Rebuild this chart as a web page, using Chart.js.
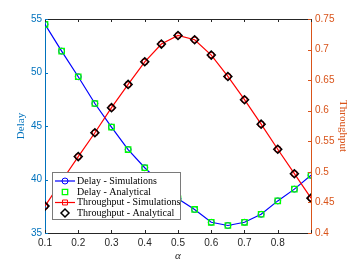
<!DOCTYPE html>
<html>
<head>
<meta charset="utf-8">
<script src="https://cdn.jsdelivr.net/npm/chart.js@4"></script>
<style>
  body { margin: 0; background: #fff; }
  canvas { display: block; }
</style>
</head>
<body>
<canvas id="chart" width="350" height="263"></canvas>
<script>
// values
const alpha = [0.1, 0.15, 0.2, 0.25, 0.3, 0.35, 0.4, 0.45, 0.5, 0.55, 0.6, 0.65, 0.7, 0.75, 0.8, 0.85, 0.9];
const delaySim = [54.5, 52.0, 49.6, 47.1, 44.9, 42.8, 41.1, 39.6, 38.2, 37.2, 36.0, 35.7, 36.0, 36.75, 38.0, 39.1, 40.4];
const delayAna = [54.5, 52.0, 49.6, 47.1, 44.9, 42.8, 41.1, 39.6, 38.2, 37.2, 36.0, 35.7, 36.0, 36.75, 38.0, 39.1, 40.4];
const tputSim = [0.444, 0.485, 0.525, 0.564, 0.605, 0.643, 0.680, 0.709, 0.723, 0.716, 0.691, 0.656, 0.618, 0.578, 0.537, 0.497, 0.457];
const tputAna = [0.444, 0.485, 0.525, 0.564, 0.605, 0.643, 0.680, 0.709, 0.723, 0.716, 0.691, 0.656, 0.618, 0.578, 0.537, 0.497, 0.457];
const seriesNames = ['Delay - Simulations', 'Delay - Analytical', 'Throughput - Simulations', 'Throughput - Analytical'];

const BLUE_AX = '#0072BD';
const ORANGE_AX = '#D95319';
const DARK = '#262626';
const sansFont = "'Liberation Sans', Helvetica, Arial, sans-serif";
const serifFont = "'Liberation Serif', 'Times New Roman', serif";

const pts = (ys) => alpha.map((x, i) => ({ x: x, y: ys[i] }));

const datasets = [
    { label: seriesNames[0], data: pts(delaySim), yAxisID: 'y', order: 4,
      borderColor: '#0000FF', borderWidth: 1.2, pointStyle: 'circle', pointRadius: 3,
      pointBorderColor: '#0000FF', pointBackgroundColor: 'rgba(0,0,0,0)', pointBorderWidth: 1 },
    { label: seriesNames[1], data: pts(delayAna), yAxisID: 'y', order: 3, showLine: false,
      pointStyle: 'rect', pointRadius: 3.8, pointBorderColor: '#00FF00',
      pointBackgroundColor: 'rgba(0,0,0,0)', pointBorderWidth: 1.3 },
    { label: seriesNames[2], data: pts(tputSim), yAxisID: 'y2', order: 2,
      borderColor: '#FF0000', borderWidth: 1.2, pointStyle: 'rect', pointRadius: 3.5,
      pointBorderColor: '#FF0000', pointBackgroundColor: 'rgba(0,0,0,0)', pointBorderWidth: 1 },
    { label: seriesNames[3], data: pts(tputAna), yAxisID: 'y2', order: 1, showLine: false,
      pointStyle: 'rectRot', pointRadius: 4, pointBorderColor: '#000000',
      pointBackgroundColor: 'rgba(0,0,0,0)', pointBorderWidth: 1.5 }
];

// MATLAB style: ticks pointing inward and a box on top
const inwardTicks = {
    id: 'inwardTicks',
    afterDatasetsDraw(chart) {
        const { ctx, chartArea: a, scales } = chart;
        ctx.save();
        ctx.lineWidth = 1;
        ctx.strokeStyle = DARK;
        ctx.beginPath();
        ctx.moveTo(a.left, a.top + 0.5);
        ctx.lineTo(a.right, a.top + 0.5);
        scales.x.ticks.forEach((t) => {
            const px = Math.round(scales.x.getPixelForValue(t.value)) + 0.5;
            ctx.moveTo(px, a.bottom); ctx.lineTo(px, a.bottom - 3);
            ctx.moveTo(px, a.top); ctx.lineTo(px, a.top + 3);
        });
        ctx.stroke();
        ctx.strokeStyle = BLUE_AX;
        ctx.beginPath();
        scales.y.ticks.forEach((t) => {
            const py = Math.round(scales.y.getPixelForValue(t.value)) + 0.5;
            ctx.moveTo(a.left, py); ctx.lineTo(a.left + 3, py);
        });
        ctx.stroke();
        ctx.strokeStyle = ORANGE_AX;
        ctx.beginPath();
        scales.y2.ticks.forEach((t) => {
            const py = Math.round(scales.y2.getPixelForValue(t.value)) + 0.5;
            ctx.moveTo(a.right, py); ctx.lineTo(a.right - 3, py);
        });
        ctx.stroke();
        ctx.restore();
    }
};

// legend box inside the plot, lower left
const boxLegend = {
    id: 'boxLegend',
    afterDraw(chart) {
        const { ctx } = chart;
        const left = 52, top = 172, right = 181, bottom = 220;
        const rows = [181, 192, 202.5, 213];
        ctx.save();
        ctx.fillStyle = '#fff';
        ctx.fillRect(left, top, right - left, bottom - top);
        ctx.strokeStyle = '#7a7a7a';
        ctx.lineWidth = 1;
        ctx.strokeRect(left + 0.5, top + 0.5, right - left - 1, bottom - top - 1);
        chart.data.datasets.forEach((ds, i) => {
            const y = rows[i];
            if (ds.showLine !== false) {
                ctx.strokeStyle = ds.borderColor;
                ctx.lineWidth = ds.borderWidth;
                ctx.beginPath();
                ctx.moveTo(55, y); ctx.lineTo(75, y);
                ctx.stroke();
            }
            ctx.strokeStyle = ds.pointBorderColor;
            ctx.fillStyle = 'rgba(0,0,0,0)';
            ctx.lineWidth = ds.pointBorderWidth;
            Chart.helpers.drawPoint(ctx, { pointStyle: ds.pointStyle, radius: ds.pointRadius, borderWidth: ds.pointBorderWidth }, 65, y);
            ctx.fillStyle = '#000';
            ctx.font = '10px ' + serifFont;
            ctx.textBaseline = 'middle';
            ctx.textAlign = 'left';
            ctx.fillText(ds.label, 77, y);
        });
        ctx.restore();
    }
};

new Chart(document.getElementById('chart'), {
    type: 'line',
    data: { datasets: datasets },
    plugins: [inwardTicks, boxLegend],
    options: {
        responsive: false,
        animation: false,
        layout: { padding: { top: 19, left: 0, right: 0, bottom: 0 } },
        plugins: { legend: { display: false }, tooltip: { enabled: false } },
        scales: {
            x: {
                type: 'linear', min: 0.1, max: 0.9,
                grid: { drawOnChartArea: false, drawTicks: false },
                border: { color: DARK, width: 1 },
                ticks: {
                    stepSize: 0.1, autoSkip: false, maxRotation: 0, padding: 4,
                    color: DARK, font: { family: sansFont, size: 10 },
                    callback: (v) => (v > 0.85 ? '' : String(+v.toFixed(2)))
                },
                title: { display: true, text: 'α', color: DARK,
                         font: { family: serifFont, size: 11, style: 'italic' }, padding: 0 },
                afterFit: (s) => { s.height = 30; }
            },
            y: {
                position: 'left', min: 35, max: 55,
                grid: { drawOnChartArea: false, drawTicks: false },
                border: { color: BLUE_AX, width: 1 },
                ticks: { stepSize: 5, padding: 3, color: BLUE_AX, font: { family: sansFont, size: 10 } },
                title: { display: true, text: 'Delay', color: BLUE_AX,
                         font: { family: serifFont, size: 11 }, padding: { top: 15, bottom: 0 } },
                afterFit: (s) => { s.width = 45; }
            },
            y2: {
                position: 'right', min: 0.4, max: 0.75,
                grid: { drawOnChartArea: false, drawTicks: false },
                border: { color: ORANGE_AX, width: 1 },
                ticks: {
                    stepSize: 0.05, padding: 4, color: ORANGE_AX, font: { family: sansFont, size: 10 },
                    callback: (v) => String(+v.toFixed(2))
                },
                title: { display: true, text: 'Throughput', color: ORANGE_AX,
                         font: { family: serifFont, size: 11 }, padding: { top: 1, bottom: 0 } },
                afterFit: (s) => { s.width = 39; }
            }
        }
    }
});
</script>
</body>
</html>
